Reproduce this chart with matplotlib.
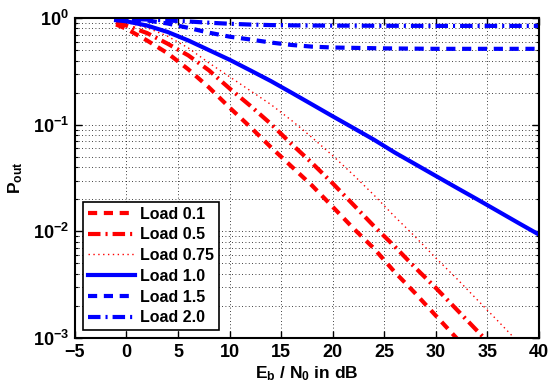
import numpy as np
import matplotlib.pyplot as plt
from matplotlib.ticker import FixedLocator, LogLocator, NullFormatter

plt.rcParams['font.family'] = ['Liberation Sans', 'DejaVu Sans']
plt.rcParams['font.weight'] = 'bold'
plt.rcParams['mathtext.fontset'] = 'custom'
plt.rcParams['mathtext.rm'] = 'Liberation Sans:bold'
plt.rcParams['mathtext.it'] = 'Liberation Sans:bold'
plt.rcParams['mathtext.bf'] = 'Liberation Sans:bold'

# Eb/N0 in dB
snr_red = [-1, 0, 2, 4, 6, 8, 10, 12, 14, 16, 18, 20, 22, 24, 26, 28, 30, 32, 34, 36, 38]
snr_blue = [-1, 0, 2, 4, 6, 8, 10, 12, 14, 16, 18, 20, 22, 24, 26, 28, 30, 32, 34, 36, 38, 40]
snr_flat = [-1, 0, 2, 4, 6, 8, 10, 12, 14, 16, 18, 20, 25, 30, 35, 40]

p_load01 = [0.871, 0.794, 0.617, 0.468, 0.331, 0.224, 0.145, 0.0955, 0.0617, 0.0407,
            0.0269, 0.0170, 0.0107, 0.00692, 0.00417, 0.00263, 0.00162, 0.00100, 0.000631]
p_load05 = [0.912, 0.851, 0.724, 0.575, 0.447, 0.324, 0.219, 0.151, 0.102, 0.0661,
            0.0437, 0.0282, 0.0178, 0.0112, 0.00724, 0.00457, 0.00295, 0.00186, 0.00117, 0.000741]
p_load075 = [0.955, 0.912, 0.813, 0.676, 0.525, 0.380, 0.282, 0.209, 0.155, 0.110,
             0.0759, 0.0513, 0.0339, 0.0219, 0.0138, 0.00891, 0.00562, 0.00363, 0.00229,
             0.00145, 0.000912]
p_load10 = [0.955, 0.933, 0.851, 0.741, 0.617, 0.501, 0.407, 0.324, 0.257, 0.200, 0.155,
            0.120, 0.0933, 0.0724, 0.0550, 0.0427, 0.0331, 0.0257, 0.0200, 0.0155, 0.0120, 0.00933]
p_load15 = [0.98, 0.975, 0.95, 0.89, 0.81, 0.73, 0.67, 0.63, 0.59, 0.56, 0.54, 0.53,
            0.52, 0.515, 0.515, 0.515]
p_load20 = [0.99, 0.985, 0.97, 0.95, 0.93, 0.905, 0.885, 0.87, 0.86, 0.855, 0.852, 0.85,
            0.847, 0.845, 0.845, 0.845]

fig = plt.figure(figsize=(5.5, 3.85), dpi=100)
ax = fig.add_axes([0.136, 0.122, 0.844, 0.831])

ax.semilogy(snr_red[:len(p_load01)], p_load01, color='red', ls=(0, (2.2, 1.6)), lw=3, label='Load 0.1')
ax.semilogy(snr_red[:len(p_load05)], p_load05, color='red', ls=(0, (3, 1.2, 0.5, 1.2)), lw=3, label='Load 0.5')
ax.semilogy(snr_red[:len(p_load075)], p_load075, color='red', ls=(0, (1, 2.5)), lw=1, label='Load 0.75')
ax.semilogy(snr_blue, p_load10, color='blue', ls='-', lw=3, label='Load 1.0')
ax.semilogy(snr_flat, p_load15, color='blue', ls=(0, (2.2, 1.6)), lw=3, label='Load 1.5')
ax.semilogy(snr_flat, p_load20, color='blue', ls=(0, (3, 1.2, 0.5, 1.2)), lw=3, label='Load 2.0')

ax.set_xlim(-5, 40)
ax.set_ylim(1e-3, 1)
ax.xaxis.set_major_locator(FixedLocator(np.arange(-5, 41, 5)))
ax.yaxis.set_major_locator(LogLocator(base=10, numticks=10))
ax.yaxis.set_minor_locator(LogLocator(base=10, subs=np.arange(2, 10), numticks=10))
ax.yaxis.set_minor_formatter(NullFormatter())

ax.grid(True, which='major', color='black', ls=(0, (1, 3)), lw=0.6)
ax.grid(True, which='minor', axis='y', color='black', ls=(0, (1, 3)), lw=0.6)

ax.tick_params(which='both', direction='in', top=True, right=True, labelsize=13)
ax.tick_params(which='major', length=5, width=1, pad=4)
ax.tick_params(which='minor', length=2.5, width=0.8)
for s in ax.spines.values():
    s.set_linewidth(1.5)

ax.set_xlabel(r'E$_\mathregular{b}$ / N$_\mathregular{0}$ in dB', fontsize=12.5, fontweight='bold', labelpad=3)
ax.set_ylabel(r'P$_\mathregular{out}$', fontsize=12.5, fontweight='bold', labelpad=6)

leg = ax.legend(loc='lower left', fontsize=11.5, handlelength=3.0, borderaxespad=0.5,
                fancybox=False, framealpha=1, edgecolor='black', labelspacing=0.36,
                borderpad=0.3, handletextpad=0.3)
leg.get_frame().set_linewidth(1.2)

fig.savefig('out.png', dpi=100)
